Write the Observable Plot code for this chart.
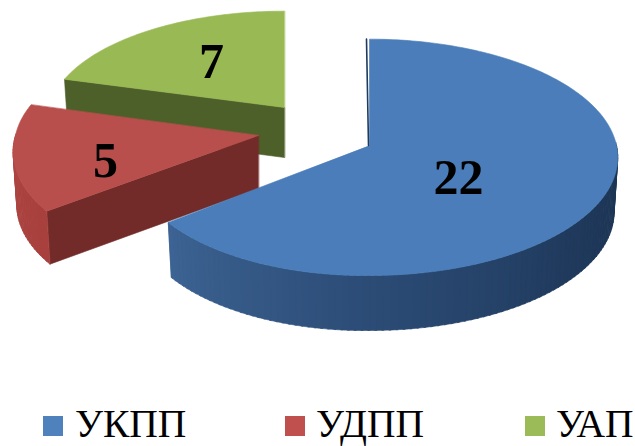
<!DOCTYPE html>
<html><head><meta charset="utf-8">
<script src="https://cdn.jsdelivr.net/npm/d3@7"></script>
<script src="https://cdn.jsdelivr.net/npm/@observablehq/plot@0.6"></script>
<style>
html,body{margin:0;padding:0;background:#fff;overflow:hidden}
#legend{position:relative;height:50px;width:635px;font-family:"Liberation Serif",serif;font-size:39.5px;color:#000}
#legend i{position:absolute;top:20px;width:20px;height:20px}
#legend span{position:absolute;top:13px;line-height:30px;white-space:nowrap}
svg{display:block}
</style></head><body>
<div id="chart"></div><div id="legend"></div>
<script>
// Data
const categories = ["УКПП", "УДПП", "УАП"];
const counts = [22, 5, 7];

// Styling / layout of the exploded 3D slices (not data)
const colors = ["#4a7db9", "#b84f4c", "#98b954"];
const legendColors = ["#4f81bd", "#c0504d", "#9bbb59"];
const layout = [
  {cx:369, cy:145, rxL:237, rxR:247, ry:117, p:0.10, pF:0.10, shear:2.5, depth:55, lx:89, ly:32,
   arc:[[90,"#1c3452"],[130,"#203a5d"],[180,"#2c4c76"],[233,"#3d6494"]], face:null},
  {cx:258, cy:135, rxL:243, rxR:243, ry:115, p:0.10, pF:0.14, shear:0, depth:53, lx:-153, ly:25,
   arc:[[233,"#a8413e"],[290,"#b04744"]], face:"#722b29"},
  {cx:284, cy:107, rxL:235, rxR:235, ry:106, p:0.10, pF:0.10, shear:0, depth:50, lx:-73, ly:-46,
   arc:[[286,"#4d6029"],[360,"#4d6029"]], face:"#4d6029"}
];

const W = 635, H = 396, DEG = Math.PI / 180;
const arcs = d3.pie().sort(null)(counts);

function project(L, aDeg, r, z) {
  const a = aDeg * DEG, u = Math.sin(a) * r, v = -Math.cos(a) * r;
  const s = 1 / (1 - (v > 0 ? L.pF : L.p) * v);
  const k = z ? 0.985 : 1;
  const rx = u < 0 ? L.rxL : L.rxR;
  const sh = u < 0 ? -u * L.shear : 0;
  return {x: L.cx + rx * u * s * k, y: L.cy + L.ry * v * s + sh + (z ? L.depth : 0)};
}

const polys = [], labels = [];
// painter's order: green, red, blue
[2, 1, 0].forEach(i => {
  const L = layout[i], a0 = arcs[i].startAngle / DEG, a1 = arcs[i].endAngle / DEG;
  const stops = L.arc;
  const col = d3.scaleLinear().domain(stops.map(d => d[0])).range(stops.map(d => d[1])).clamp(true);
  if (L.face) {
    const id = "f" + i;
    [project(L, a0, 0, 0), project(L, a0, 1, 0), project(L, a0, 1, 1), project(L, a0, 0, 1)]
      .forEach(p => polys.push({...p, id, fill: L.face}));
  }
  const step = 1.5;
  for (let a = a0; a < a1; a += step) {
    const b = Math.min(a + step + 0.4, a1);
    if (Math.cos(((a + b) / 2) * DEG) > 0.02) continue;
    const id = "w" + i + "_" + a, fill = d3.color(col(a)).formatHex();
    [project(L, a, 1, 0), project(L, b, 1, 0), project(L, b, 1, 1), project(L, a, 1, 1)]
      .forEach(p => polys.push({...p, id, fill}));
  }
  const id = "t" + i;
  polys.push({...project(L, a0, 0, 0), id, fill: colors[i]});
  for (let a = a0; a <= a1 + 1e-6; a += 1) polys.push({...project(L, a, 1, 0), id, fill: colors[i]});
  polys.push({...project(L, a1, 1, 0), id, fill: colors[i]});
  labels.push({x: L.cx + L.lx, y: L.cy + L.ly, t: String(counts[i])});
});

const B = layout[0];
const edge = [project(B, 0, 1, 0), project(B, 0, 0, 0)].map(p => ({x: p.x - 1, y: p.y}));
edge[0].x -= 2;

const chart = Plot.plot({
  width: W, height: H, margin: 0,
  x: {domain: [0, W], range: [0, W], axis: null},
  y: {domain: [H, 0], range: [H, 0], axis: null},
  marks: [
    Plot.line(polys, {x: "x", y: "y", z: "id", fill: "fill", stroke: "fill", strokeWidth: 0.6, curve: "linear-closed"}),
    Plot.line(edge, {x: "x", y: "y", stroke: "#1f3a5c", strokeWidth: 1.6}),
    Plot.text(labels, {x: "x", y: "y", text: "t", fontFamily: "Liberation Serif", fontWeight: "bold", fontSize: 50, fill: "#000", textAnchor: "middle"})
  ]
});
document.getElementById("chart").append(chart);

const swatchX = [43, 285, 525], textX = [75, 316, 556];
const legend = document.getElementById("legend");
categories.forEach((c, i) => {
  const sw = document.createElement("i");
  sw.style.left = swatchX[i] + "px"; sw.style.background = legendColors[i];
  const t = document.createElement("span");
  t.style.left = textX[i] + "px"; t.textContent = c;
  legend.append(sw, t);
});
</script></body></html>
